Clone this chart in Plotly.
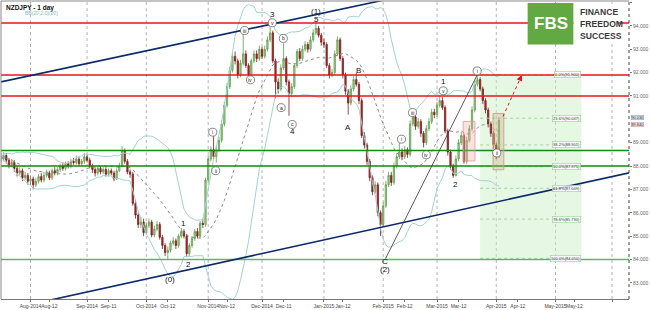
import pandas as pd
import numpy as np
import plotly.graph_objects as go

# ---------------- data ----------------
opens = [88.40,88.30,88.45,88.25,88.05,88.15,87.90,87.70,87.80,87.50,
         87.60,87.35,87.45,87.20,87.35,87.55,87.40,87.60,87.70,87.50,
         87.80,87.70,87.85,88.00,87.90,88.10,88.00,88.20,88.15,88.30,
         88.10,88.20,88.40,88.25,88.00,87.85,87.70,87.90,87.75,87.85,
         87.65,87.80,87.70,87.45,87.80,88.00,88.65,88.20,87.75,87.65,
         86.40,85.90,85.50,85.60,85.15,85.45,85.60,85.05,85.30,85.50,
         84.95,84.60,84.30,84.40,84.70,84.80,84.60,85.00,85.20,85.00,
         84.25,84.60,84.90,85.20,85.00,85.55,85.50,87.40,88.30,88.70,
         88.40,88.70,89.10,89.80,90.60,91.40,92.10,92.70,92.50,91.90,
         92.40,92.80,92.30,91.90,92.50,92.80,92.60,93.00,92.70,93.00,
         93.40,93.70,92.50,91.60,91.30,92.20,92.60,91.60,91.10,91.40,
         92.30,92.90,92.60,93.00,93.20,93.00,93.40,93.70,93.90,93.60,
         93.30,93.20,92.30,91.90,92.00,92.80,93.40,92.60,91.90,91.20,
         90.70,91.30,91.70,91.50,90.80,89.30,88.90,88.20,87.50,86.90,
         87.20,86.00,85.50,86.30,87.20,87.60,87.30,88.00,88.40,88.60,
         88.40,88.70,88.50,89.80,90.10,89.70,89.90,89.40,89.00,89.60,
         89.90,90.30,90.20,90.60,90.80,90.50,89.50,88.60,88.00,87.60,
         88.30,89.00,89.30,88.20,89.10,89.60,90.40,91.50,91.70,91.30,
         90.80,90.40,89.80,89.40,88.90,88.40]
highs = [88.55,88.60,88.55,88.35,88.30,88.25,88.00,87.95,87.90,87.75,
         87.70,87.60,87.55,87.50,87.65,87.70,87.75,87.85,87.80,87.90,
         87.95,87.95,88.10,88.15,88.20,88.20,88.30,88.35,88.45,88.40,
         88.30,88.55,88.50,88.35,88.10,87.95,88.00,88.00,87.95,87.95,
         87.90,87.90,87.80,87.90,88.15,88.85,88.75,88.30,87.85,87.75,
         86.55,86.00,85.80,85.75,85.60,85.75,85.70,85.45,85.65,85.60,
         85.05,84.70,84.55,84.80,84.95,84.90,85.10,85.35,85.30,85.10,
         84.70,85.00,85.30,85.35,85.65,85.75,87.50,88.45,88.85,89.40,
         88.85,89.25,89.95,90.75,91.55,92.25,92.85,92.90,92.60,92.55,
         93.75,92.95,92.40,92.60,92.95,92.95,93.15,93.10,93.15,93.55,
         94.05,93.80,92.60,91.75,92.35,93.25,92.70,91.70,91.55,92.40,
         93.00,93.05,93.15,93.35,93.30,93.55,93.85,94.15,94.00,93.70,
         93.45,93.30,92.40,92.15,92.95,93.55,93.50,92.70,92.00,91.30,
         91.45,91.85,92.00,91.60,90.90,89.45,89.00,88.30,87.60,87.35,
         87.30,86.10,86.45,87.35,87.75,87.75,88.15,88.55,89.20,88.75,
         88.85,88.80,89.95,90.30,90.20,90.05,90.00,89.50,89.75,90.05,
         90.45,90.45,90.75,91.00,90.95,90.60,89.60,88.70,88.10,88.45,
         89.15,89.45,89.40,89.25,89.75,90.55,91.65,91.90,91.80,91.40,
         90.90,90.50,89.90,89.50,89.00,90.10]
lows = [88.15,88.20,88.10,87.90,87.95,87.75,87.55,87.60,87.35,87.40,
        87.20,87.20,87.00,87.10,87.25,87.30,87.30,87.50,87.40,87.40,
        87.60,87.60,87.75,87.80,87.80,87.90,87.90,88.05,88.05,88.00,
        88.00,88.10,88.15,87.90,87.70,87.55,87.60,87.65,87.65,87.55,
        87.55,87.60,87.35,87.40,87.75,87.95,88.10,87.65,87.50,86.30,
        85.75,85.35,85.35,85.00,85.05,85.35,84.95,84.95,85.20,84.85,
        84.45,84.15,84.00,84.30,84.60,84.45,84.50,84.90,84.90,84.10,
        84.15,84.50,84.80,84.90,84.90,85.35,85.40,87.30,88.20,88.30,
        88.15,88.60,89.00,89.70,90.50,91.30,92.00,92.35,91.75,91.80,
        92.30,92.20,91.70,91.80,92.40,92.45,92.50,92.60,92.60,92.90,
        93.30,92.40,90.90,91.10,91.20,92.10,91.45,90.15,90.95,91.30,
        92.20,92.50,92.50,92.90,92.85,92.90,93.30,93.60,93.50,93.15,
        93.05,92.20,91.75,91.80,91.90,92.70,92.50,91.75,91.05,90.20,
        90.60,91.20,91.40,90.65,89.20,88.75,88.05,87.35,86.75,86.80,
        85.85,85.00,85.40,86.20,87.10,87.15,87.20,87.90,88.30,88.25,
        88.30,88.35,88.40,89.70,89.55,89.60,89.25,88.80,88.90,89.50,
        89.80,90.05,90.10,90.50,90.40,89.40,88.45,87.85,87.50,87.55,
        88.20,88.90,88.10,88.10,89.00,89.50,90.30,91.40,91.20,90.65,
        90.25,89.65,89.25,88.75,88.30,88.35]
closes = [88.30,88.45,88.25,88.05,88.15,87.90,87.70,87.80,87.50,87.60,
          87.35,87.45,87.20,87.35,87.55,87.40,87.60,87.70,87.50,87.80,
          87.70,87.85,88.00,87.90,88.10,88.00,88.20,88.15,88.30,88.10,
          88.20,88.40,88.25,88.00,87.85,87.70,87.90,87.75,87.85,87.65,
          87.80,87.70,87.45,87.80,88.00,88.65,88.20,87.75,87.65,86.40,
          85.90,85.50,85.60,85.15,85.45,85.60,85.05,85.30,85.50,84.95,
          84.60,84.30,84.40,84.70,84.80,84.60,85.00,85.20,85.00,84.25,
          84.60,84.90,85.20,85.00,85.55,85.50,87.40,88.30,88.70,88.40,
          88.70,89.10,89.80,90.60,91.40,92.10,92.70,92.50,91.90,92.40,
          92.80,92.30,91.90,92.50,92.80,92.60,93.00,92.70,93.00,93.40,
          93.70,92.50,91.60,91.30,92.20,92.60,91.60,91.10,91.40,92.30,
          92.90,92.60,93.00,93.20,93.00,93.40,93.70,93.90,93.60,93.30,
          93.20,92.30,91.90,92.00,92.80,93.40,92.60,91.90,91.20,90.70,
          91.30,91.70,91.50,90.80,89.30,88.90,88.20,87.50,86.90,87.20,
          86.00,85.50,86.30,87.20,87.60,87.30,88.00,88.40,88.60,88.40,
          88.70,88.50,89.80,90.10,89.70,89.90,89.40,89.00,89.60,89.90,
          90.30,90.20,90.60,90.80,90.50,89.50,88.60,88.00,87.60,88.30,
          89.00,89.30,88.20,89.10,89.60,90.40,91.50,91.70,91.30,90.80,
          90.40,89.80,89.40,88.90,88.40,89.95]

start_date = "2014-07-17"
month_starts = ["2014-08-01", "2014-09-01", "2014-10-01", "2014-11-01", "2014-12-01",
                "2015-01-01", "2015-02-01", "2015-03-01", "2015-04-01", "2015-05-01", "2015-06-01"]
month_labels = ["Aug-2014", "Sep-2014", "Oct-2014", "Nov-2014", "Dec-2014",
                "Jan-2015", "Feb-2015", "Mar-2015", "Apr-2015", "May-2015", ""]
mid_dates = ["2014-08-12", "2014-09-11", "2014-10-13", "2014-11-12", "2014-12-11",
             "2015-01-12", "2015-02-12", "2015-03-12", "2015-04-13", "2015-05-12"]
mid_labels = ["Aug-12", "Sep-11", "Oct-12", "Nov-12", "Dec-11",
              "Jan-12", "Feb-12", "Mar-12", "Apr-12", "May-12"]
price_ticks = [83, 84, 85, 86, 87, 88, 89, 91, 92, 93, 94, 95]

red_levels = [94.12, 91.90, 91.00]
green_levels = [88.67, 88.00]
support_level = 84.00

fib_high = 91.90
fib_low = 84.05
fib_pcts = [0.0, 23.6, 38.2, 50.0, 61.8, 78.6, 100.0]

bid_price = 90.030
ask_price = 89.840

# wave labels: (bar index, price, text)
circled = [(78.7, 89.45, "i"), (79.8, 87.80, "ii"), (90.5, 93.80, "iii"), (92.7, 91.69, "iv"),
           (100.8, 94.13, "v"), (104.1, 90.50, "a"), (104.9, 93.46, "b"), (108.2, 89.78, "c"),
           (148.8, 89.15, "i"), (152.9, 90.29, "iii"), (158.0, 88.48, "iv"), (164.3, 91.22, "v"),
           (176.9, 92.07, "i"), (184.2, 88.56, "ii")]
plain = [(62.8, 83.15, "(0)"), (68.0, 85.56, "1"), (69.8, 83.79, "2"), (100.8, 94.47, "3"),
         (108.2, 89.49, "4"), (117.1, 94.60, "(1)"), (117.1, 94.27, "5"), (128.9, 89.66, "A"),
         (132.9, 92.11, "B"), (142.5, 83.91, "C"), (142.5, 83.58, "(2)"), (164.3, 91.60, "1"),
         (168.7, 87.21, "2")]

# ---------------- build ----------------
dates = pd.bdate_range(start_date, periods=260)
def pos(d):
    return int(dates.searchsorted(pd.Timestamp(d)))

n = len(closes)
xi = list(range(n))

s = pd.Series(closes)
mid = s.rolling(20, min_periods=1).mean()
sd = s.rolling(20, min_periods=1).std(ddof=0)
bb_up = mid + 2 * sd
bb_lo = mid - 2 * sd

fig = go.Figure()
fig.add_trace(go.Scatter(x=xi, y=bb_up, mode="lines", line=dict(color="#a3d2d3", width=1), hoverinfo="skip"))
fig.add_trace(go.Scatter(x=xi, y=bb_lo, mode="lines", line=dict(color="#a3d2d3", width=1), hoverinfo="skip"))
fig.add_trace(go.Scatter(x=xi, y=mid, mode="lines", line=dict(color="#8c8c8c", width=1, dash="dot"), hoverinfo="skip"))

fig.add_trace(go.Candlestick(
    x=xi, open=opens, high=highs, low=lows, close=closes,
    increasing=dict(line=dict(color="#5e9c4c", width=0.8), fillcolor="#9ed68c"),
    decreasing=dict(line=dict(color="#7d1d1d", width=0.8), fillcolor="#b32a2a"),
    whiskerwidth=0, hoverinfo="skip"))

shapes = []
for d in month_starts:
    shapes.append(dict(type="line", xref="x", yref="paper", x0=pos(d), x1=pos(d), y0=0, y1=1,
                       line=dict(color="#b5b5b5", width=1, dash="dot"), layer="below"))
rng = fib_high - fib_low
fx0, fx1 = 178.0, 215.6
shapes.append(dict(type="rect", xref="x", yref="y", x0=fx0, x1=fx1, y0=fib_low, y1=fib_high,
                   fillcolor="rgba(200,240,195,0.45)", line=dict(width=0), layer="below"))
for p in fib_pcts:
    lv = fib_high - rng * p / 100
    shapes.append(dict(type="line", xref="x", yref="y", x0=fx0, x1=fx1, y0=lv, y1=lv,
                       line=dict(color="#9fd596", width=1, dash="dot")))
for lv in red_levels:
    shapes.append(dict(type="line", xref="paper", yref="y", x0=0, x1=1, y0=lv, y1=lv,
                       line=dict(color="#e8141b", width=1.5)))
for lv in green_levels:
    shapes.append(dict(type="line", xref="paper", yref="y", x0=0, x1=1, y0=lv, y1=lv,
                       line=dict(color="#118a11", width=1.5)))
shapes.append(dict(type="line", xref="paper", yref="y", x0=0, x1=1, y0=support_level, y1=support_level,
                   line=dict(color="#5cb85c", width=1.5)))
shapes.append(dict(type="line", xref="x", yref="y", x0=0, y0=91.60, x1=160, y1=95.54,
                   line=dict(color="#0d2a6b", width=1.6)))
shapes.append(dict(type="line", xref="x", yref="y", x0=0, y0=81.80, x1=240, y1=87.88,
                   line=dict(color="#0d2a6b", width=1.6)))
shapes.append(dict(type="line", xref="x", yref="y", x0=142.9, y0=84.04, x1=176.9, y1=91.90,
                   line=dict(color="#333333", width=0.8)))
shapes.append(dict(type="rect", xref="x", yref="y", x0=171.7, x1=176.1, y0=88.22, y1=89.91,
                   fillcolor="rgba(245,170,170,0.35)", line=dict(color="rgba(230,150,150,0.8)", width=1)))
shapes.append(dict(type="rect", xref="x", yref="y", x0=182.8, x1=186.8, y0=87.84, y1=90.25,
                   fillcolor="rgba(210,170,140,0.35)", line=dict(color="rgba(200,160,130,0.9)", width=1)))
shapes.append(dict(type="line", xref="x", yref="y", x0=186.5, y0=90.12, x1=193.3, y1=91.85,
                   line=dict(color="#e3141b", width=1, dash="dot")))
for (ix, pr, t) in circled:
    shapes.append(dict(type="circle", xref="x", yref="y", x0=ix - 1.5, x1=ix + 1.5, y0=pr - 0.17, y1=pr + 0.17,
                       line=dict(color="#555555", width=0.7), fillcolor="white"))
shapes.append(dict(type="line", xref="paper", yref="paper", x0=1, x1=1, y0=0, y1=1,
                   line=dict(color="#444444", width=1, dash="dot")))
shapes.append(dict(type="line", xref="paper", yref="paper", x0=0, x1=0, y0=0, y1=1,
                   line=dict(color="#888888", width=1)))
shapes.append(dict(type="line", xref="paper", yref="paper", x0=0, x1=1, y0=1, y1=1,
                   line=dict(color="#888888", width=1)))
# logo
shapes.append(dict(type="rect", xref="paper", yref="paper", x0=0.9114, x1=0.983, y0=0.86, y1=0.99,
                   fillcolor="white", line=dict(width=0)))
shapes.append(dict(type="rect", xref="paper", yref="paper", x0=0.8386, x1=0.9114, y0=0.854, y1=0.993,
                   fillcolor="#62a843", line=dict(width=0)))

ann = []
for (ix, pr, t) in circled:
    ann.append(dict(x=ix, y=pr, xref="x", yref="y", text=t, showarrow=False,
                    font=dict(size=5, color="#222222")))
for (ix, pr, t) in plain:
    ann.append(dict(x=ix, y=pr, xref="x", yref="y", text=t, showarrow=False,
                    font=dict(size=8, color="#111111")))
for p in fib_pcts:
    lv = fib_high - rng * p / 100
    ann.append(dict(x=fx1, y=lv, xref="x", yref="y", xanchor="right", text="%.1f%%(%.3f)" % (p, lv),
                    showarrow=False, font=dict(size=4, color="#333333"),
                    bordercolor="#8fd08a", borderwidth=0.6, borderpad=0.5, bgcolor="rgba(255,255,255,0.8)"))
ann.append(dict(x=193.5, y=91.90, ax=192.6, ay=91.67, xref="x", yref="y", axref="x", ayref="y",
                showarrow=True, arrowhead=2, arrowsize=1.2, arrowwidth=1, arrowcolor="#e3141b", text=""))
ann.append(dict(x=0.005, y=0.995, xref="paper", yref="paper", xanchor="left", yanchor="top",
                text="<b>NZDJPY - 1 day</b>", showarrow=False, font=dict(size=6.5, color="#111111")))
ann.append(dict(x=0.035, y=0.975, xref="paper", yref="paper", xanchor="left", yanchor="top",
                text="BB(20,2,0)(20)", showarrow=False, font=dict(size=5, color="#7fb8ba")))
ann.append(dict(x=0.875, y=0.924, xref="paper", yref="paper", xanchor="center", yanchor="middle",
                text="<b>FBS</b>", showarrow=False,
                font=dict(size=17, color="white", family="Liberation Sans, Arial")))
for k, word in enumerate(["FINANCE", "FREEDOM", "SUCCESS"]):
    ann.append(dict(x=0.919, y=0.962 - k * 0.040, xref="paper", yref="paper", xanchor="left", yanchor="middle",
                    text="<b>" + word + "</b>", showarrow=False,
                    font=dict(size=8.6, color="#3a3a3a", family="Liberation Sans, Arial")))
ann.append(dict(x=1.003, y=bid_price + 0.05, xref="paper", yref="y", xanchor="left", yanchor="middle",
                text="%.3f" % bid_price, showarrow=False, font=dict(size=3.8, color="#222"),
                bordercolor="#7799bb", borderwidth=0.5, borderpad=0, bgcolor="#e6eef8"))
ann.append(dict(x=1.003, y=ask_price - 0.08, xref="paper", yref="y", xanchor="left", yanchor="middle",
                text="%.3f" % ask_price, showarrow=False, font=dict(size=3.8, color="#222"),
                bordercolor="#cc8888", borderwidth=0.5, borderpad=0, bgcolor="#f8eaea"))

tickvals = [pos(d) for d in month_starts] + [pos(d) for d in mid_dates]
ticktext = month_labels + mid_labels

fig.update_layout(
    width=650, height=310, margin=dict(l=1, r=17, t=1, b=7),
    plot_bgcolor="white", paper_bgcolor="white", showlegend=False,
    font=dict(family="Liberation Sans, Arial, sans-serif"),
    shapes=shapes, annotations=ann,
    xaxis=dict(range=[0.04, 233.3], rangeslider=dict(visible=False), showgrid=False, zeroline=False,
               tickvals=tickvals, ticktext=ticktext, tickfont=dict(size=5, color="#444"),
               ticks="outside", ticklen=2, tickcolor="#777", showline=True, linecolor="#777", linewidth=1,
               tickangle=0),
    yaxis=dict(range=[82.31, 95.063], side="right", showgrid=False, zeroline=False,
               tickvals=price_ticks, ticktext=["%.3f" % v for v in price_ticks],
               tickfont=dict(size=5, color="#666"), ticks="outside", ticklen=2, tickcolor="#777"),
)

fig.write_html("out.html")
